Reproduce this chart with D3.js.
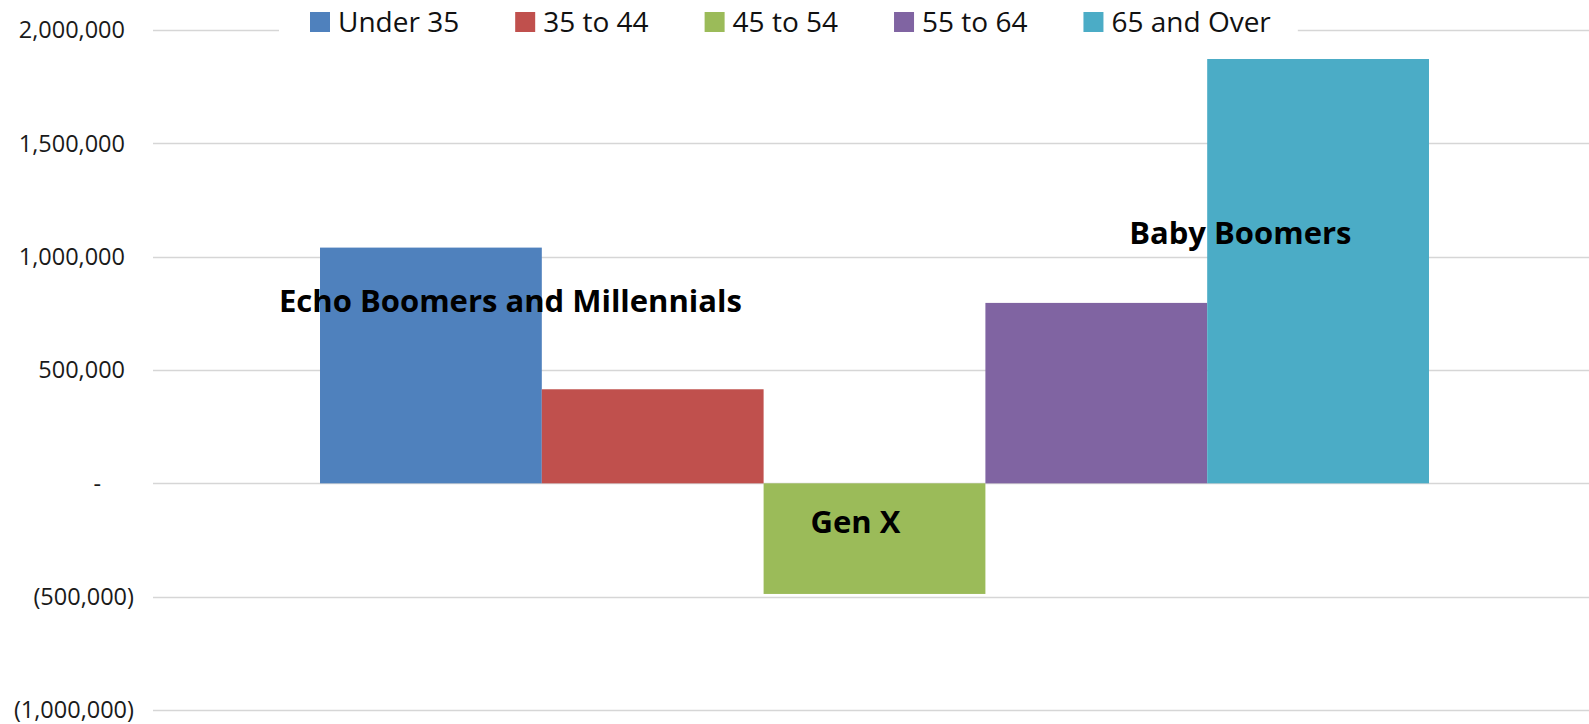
<!DOCTYPE html>
<html>
<head>
<meta charset="utf-8">
<script src="https://cdn.jsdelivr.net/npm/d3@7"></script>
<style>
  html, body { margin: 0; padding: 0; background: #fff; }
  svg { display: block; font-family: "Open Sans", sans-serif; }
</style>
</head>
<body>
<svg id="chart"></svg>
<script>
const width = 1589;
const height = 724;

// data
const category = ["All households"];
const series = ["Under 35", "35 to 44", "45 to 54", "55 to 64", "65 and Over"];
const values = [1040000, 415000, -488000, 796000, 1872000];
const seriesColors = ["#4f81bd", "#c0504d", "#9bbb59", "#8064a2", "#4bacc6"];
const yTicks = [-1000000, -500000, 0, 500000, 1000000, 1500000, 2000000];

// generation labels, y given in data units, x relative to a series bar
const labelText = ["Echo Boomers and Millennials", "Gen X", "Baby Boomers"];
const labelSeries = ["Under 35", "45 to 54", "65 and Over"];
const labelDx = [-41, 47, -78];
const labelValue = [757000, -218000, 1056000];

const gridColor = "#d6d6d6";
const plotLeft = 153, plotRight = 1596;

var svg = d3.select("#chart")
  .attr("width", width)
  .attr("height", height);

var y = d3.scaleLinear()
  .domain([-1000000, 2000000])
  .range([710, 30]);

var x0 = d3.scaleBand()
  .domain(category)
  .range([plotLeft, plotRight])
  .paddingOuter(0.1506)
  .paddingInner(0);

var x1 = d3.scaleBand()
  .domain(series)
  .range([0, x0.bandwidth()])
  .padding(0);

const color = d3.scaleOrdinal().domain(series).range(seriesColors);

// gridlines (zero line is the same grey in the original)
svg.append("g")
  .attr("class", "grid")
  .selectAll("line")
  .data(yTicks)
  .enter().append("line")
  .attr("x1", plotLeft)
  .attr("x2", width)
  .attr("y1", d => Math.round(y(d)) + 0.5)
  .attr("y2", d => Math.round(y(d)) + 0.5)
  .style("stroke", gridColor)
  .style("stroke-width", 1.3);

// y tick labels, accounting style: (neg), "-" for zero
const fmt = d3.format(",");
svg.append("g")
  .attr("class", "yaxis")
  .selectAll("text")
  .data(yTicks)
  .enter().append("text")
  .attr("x", d => d < 0 ? 134 : (d === 0 ? 101 : 125))
  .attr("y", d => y(d))
  .attr("dy", "0.36em")
  .attr("text-anchor", "end")
  .style("font-size", "23.5px")
  .style("fill", "#1a1a1a")
  .text(d => d < 0 ? "(" + fmt(-d) + ")" : (d === 0 ? "-" : fmt(d)));

// bars
var rows = series.map((s, i) => ({ cat: category[0], key: s, value: values[i] }));

svg.append("g")
  .attr("class", "bars")
  .selectAll("rect")
  .data(rows)
  .enter().append("rect")
  .attr("x", d => x0(d.cat) + x1(d.key))
  .attr("width", x1.bandwidth())
  .attr("y", d => y(Math.max(0, d.value)))
  .attr("height", d => Math.abs(y(d.value) - y(0)))
  .style("fill", d => color(d.key));

// legend, sits on top of the 2,000,000 gridline with a white box
var legend = svg.append("g").attr("class", "legend");
var legendBg = legend.append("rect")
  .attr("y", 6)
  .attr("height", 34)
  .style("fill", "#fff");

var lx = 310;
series.forEach((s, i) => {
  legend.append("rect")
    .attr("x", lx)
    .attr("y", 12)
    .attr("width", 20)
    .attr("height", 20)
    .style("fill", color(s));
  var t = legend.append("text")
    .attr("x", lx + 28)
    .attr("y", 32.3)
    .style("font-size", "28px")
    .style("fill", "#111")
    .text(s);
  var w = t.node().getComputedTextLength();
  if (i < series.length - 1) lx += 28 + w + 56;
  else lx += 28 + w;
});
legendBg.attr("x", 279).attr("width", lx + 27 - 279);

// generation labels
svg.append("g")
  .attr("class", "labels")
  .selectAll("text")
  .data(labelText)
  .enter().append("text")
  .attr("x", (d, i) => x0(category[0]) + x1(labelSeries[i]) + labelDx[i])
  .attr("y", (d, i) => y(labelValue[i]))
  .style("font-size", "31px")
  .style("font-weight", "bold")
  .style("fill", "#000")
  .text(d => d);
</script>
</body>
</html>
